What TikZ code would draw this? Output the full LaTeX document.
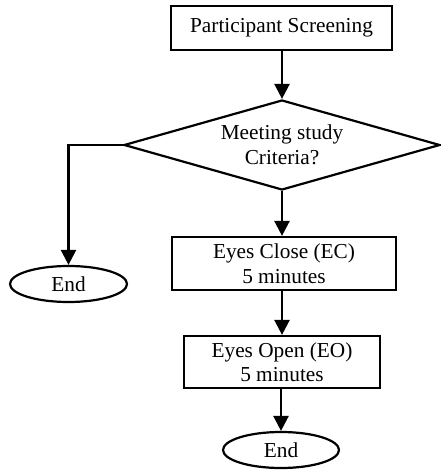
\documentclass[tikz,border=0pt]{standalone}
\usepackage{fontspec}
\setmainfont{Liberation Serif}
\usetikzlibrary{shapes.geometric,arrows.meta}
\begin{document}
\begin{tikzpicture}[x=1pt,y=-1pt,
  every node/.style={font=\fontsize{21.3}{24.5}\selectfont, align=center, line width=2.2pt, inner sep=0pt},
  procbox/.style={draw, rectangle},
  endbox/.style={draw, ellipse, minimum width=117pt, minimum height=36pt},
  decbox/.style={draw, diamond, aspect=3.5, minimum width=316pt, minimum height=90pt},
  conn/.style={line width=2.4pt, -{Triangle[length=15pt,width=15pt]}}]
\useasboundingbox (0,0) rectangle (440,470);
\node[procbox, minimum width=221pt, minimum height=44pt] (ps) at (281.5,28) {Participant Screening};
\node[decbox] (dc) at (282,145) {Meeting study\\Criteria?};
\node[endbox] (e1) at (68.5,284) {End};
\node[procbox, minimum width=224pt, minimum height=53pt] (ec) at (284,263.5) {Eyes Close (EC)\\5 minutes};
\node[procbox, minimum width=196pt, minimum height=52pt] (eo) at (282,362) {Eyes Open (EO)\\5 minutes};
\node[endbox, minimum width=116pt] (e2) at (281,450) {End};
\draw[conn] (ps.south -| dc.north) -- (dc.north);
\draw[conn] (dc.west) -| (e1.north);
\draw[conn] (dc.south) -- (dc.south |- ec.north);
\draw[conn] (ec.south -| eo.north) -- (eo.north);
\draw[conn] (eo.south -| e2.north) -- (e2.north);
\end{tikzpicture}
\end{document}
